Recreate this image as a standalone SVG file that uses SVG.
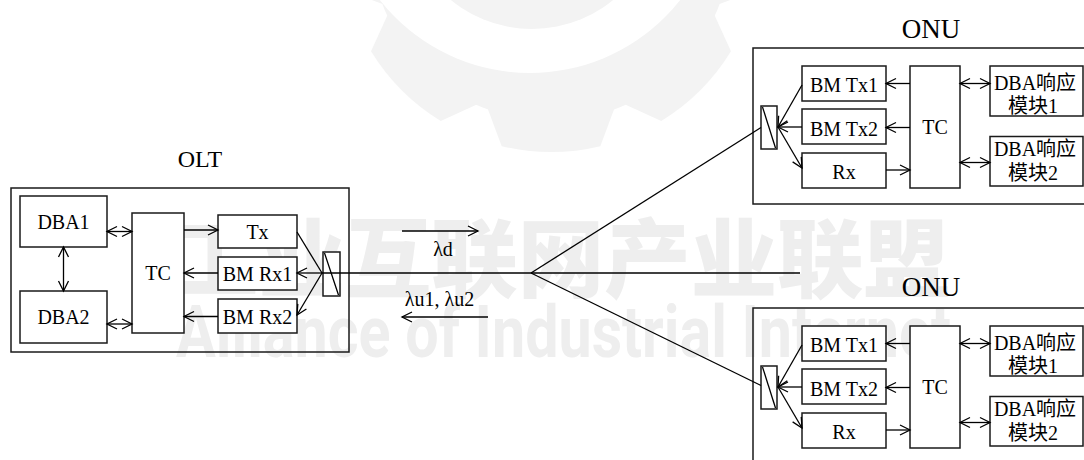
<svg xmlns="http://www.w3.org/2000/svg" width="1084" height="460" viewBox="0 0 1084 460">
<defs>
<marker id="ah" viewBox="-12 -7 14 14" refX="0" refY="0" markerWidth="14" markerHeight="14" markerUnits="userSpaceOnUse" orient="auto-start-reverse"><path d="M-10,-5 L0,0 L-10,5" fill="none" stroke="#000" stroke-width="1.3"/></marker>
<path id="tooth" d="M-68,155 L-63,168.6 L-49.3,205.2 A211,211 0 0 0 49.3,205.2 L63,168.6 L68,155 Z"/>
</defs>
<style>
.box{fill:#fff;stroke:#1a1a1a;stroke-width:1.5}
.frame{fill:none;stroke:#1a1a1a;stroke-width:1.5}
.ln{fill:none;stroke:#000;stroke-width:1.3}
.arr{marker-end:url(#ah)}
.dbl{marker-start:url(#ah);marker-end:url(#ah)}
.t{font-family:"Liberation Serif","Noto Sans CJK SC",serif;font-size:20px;fill:#000;text-anchor:middle}
.wm{fill:#f3f3f3}
.wmt{fill:#eeeeee}
</style>

<g id="watermark">
  <g class="wm" transform="translate(551,-59)">
    <circle r="180"/>
    <use href="#tooth" transform="rotate(0)"/>
    <use href="#tooth" transform="rotate(45)"/>
    <use href="#tooth" transform="rotate(90)"/>
    <use href="#tooth" transform="rotate(135)"/>
    <use href="#tooth" transform="rotate(180)"/>
    <use href="#tooth" transform="rotate(225)"/>
    <use href="#tooth" transform="rotate(270)"/>
    <use href="#tooth" transform="rotate(315)"/>
  </g>
  <circle cx="530" cy="-118" r="191" fill="#fff"/>
  <circle cx="532" cy="-99" r="128" class="wm"/>
  <text x="172" y="291" textLength="778" lengthAdjust="spacingAndGlyphs" style="font-family:'Noto Sans CJK SC',sans-serif;font-weight:900;font-size:86px" class="wmt">工业互联网产业联盟</text>
  <text x="176" y="357" textLength="775" lengthAdjust="spacingAndGlyphs" style="font-family:Roboto,'Liberation Sans',sans-serif;font-weight:700;font-size:72px" class="wmt">Alliance of Industrial Internet</text>
</g>

<g id="OLT">
  <text class="t" x="200" y="167" style="font-size:24px">OLT</text>
  <rect class="frame" x="11" y="188" width="338" height="164"/>
  <g id="olt-dba1"><rect class="box" x="20" y="196" width="87" height="51"/><text class="t" x="63.5" y="229">DBA1</text></g>
  <g id="olt-dba2"><rect class="box" x="20" y="291" width="87" height="52"/><text class="t" x="63.5" y="324">DBA2</text></g>
  <g id="olt-tc"><rect class="box" x="132" y="213" width="52" height="120"/><text class="t" x="158" y="280">TC</text></g>
  <g id="olt-tx"><rect class="box" x="218" y="215" width="79" height="33"/><text class="t" x="257.5" y="239">Tx</text></g>
  <g id="olt-bmrx1"><rect class="box" x="218" y="257" width="79" height="33"/><text class="t" x="257.5" y="281">BM Rx1</text></g>
  <g id="olt-bmrx2"><rect class="box" x="218" y="299" width="79" height="34"/><text class="t" x="257.5" y="324">BM Rx2</text></g>
  <g id="olt-splitter"><rect class="box" x="323" y="252" width="17" height="44"/><line class="ln" x1="324.5" y1="253" x2="338.5" y2="295"/></g>
</g>

<g id="ONU1">
  <text class="t" x="931" y="38" style="font-size:27px">ONU</text>
  <rect class="frame" x="753" y="48" width="345" height="156"/>
  <g id="onu1-bmtx1"><rect class="box" x="802" y="66" width="84" height="35"/><text class="t" x="844" y="92">BM Tx1</text></g>
  <g id="onu1-bmtx2"><rect class="box" x="802" y="109" width="84" height="35"/><text class="t" x="844" y="135.5">BM Tx2</text></g>
  <g id="onu1-rx"><rect class="box" x="802" y="153" width="84" height="35"/><text class="t" x="844" y="178.5">Rx</text></g>
  <g id="onu1-tc"><rect class="box" x="910" y="66" width="50" height="122"/><text class="t" x="935" y="134">TC</text></g>
  <g id="onu1-dba1"><rect class="box" x="990" y="66" width="93" height="50"/><text class="t" x="1035" y="90">DBA响应</text><text class="t" x="1033" y="112.5">模块1</text></g>
  <g id="onu1-dba2"><rect class="box" x="990" y="136.5" width="93" height="49.5"/><text class="t" x="1035" y="156">DBA响应</text><text class="t" x="1033" y="180">模块2</text></g>
  <g id="onu1-splitter"><rect class="box" x="761" y="106" width="16" height="43"/><line class="ln" x1="762.5" y1="107" x2="775.5" y2="148"/></g>
</g>

<g id="ONU2">
  <text class="t" x="931" y="296" style="font-size:27px">ONU</text>
  <rect class="frame" x="753" y="308" width="345" height="170"/>
  <g id="onu2-bmtx1"><rect class="box" x="802" y="326" width="84" height="35"/><text class="t" x="844" y="352">BM Tx1</text></g>
  <g id="onu2-bmtx2"><rect class="box" x="802" y="369" width="84" height="35"/><text class="t" x="844" y="395.5">BM Tx2</text></g>
  <g id="onu2-rx"><rect class="box" x="802" y="413" width="84" height="35"/><text class="t" x="844" y="438.5">Rx</text></g>
  <g id="onu2-tc"><rect class="box" x="910" y="326" width="50" height="122"/><text class="t" x="935" y="394">TC</text></g>
  <g id="onu2-dba1"><rect class="box" x="990" y="326" width="93" height="50"/><text class="t" x="1035" y="350">DBA响应</text><text class="t" x="1033" y="372.5">模块1</text></g>
  <g id="onu2-dba2"><rect class="box" x="990" y="396.5" width="93" height="49.5"/><text class="t" x="1035" y="416">DBA响应</text><text class="t" x="1033" y="440">模块2</text></g>
  <g id="onu2-splitter"><rect class="box" x="761" y="366" width="16" height="43"/><line class="ln" x1="762.5" y1="367" x2="775.5" y2="408"/></g>
</g>

<g id="labels">
  <text class="t" x="443" y="256">λd</text>
  <text class="t" x="439.5" y="306">λu1, λu2</text>
</g>

<g id="connectors">
  <line class="ln dbl" x1="107" y1="231.5" x2="132" y2="231.5"/>
  <line class="ln dbl" x1="107" y1="324" x2="132" y2="324"/>
  <line class="ln dbl" x1="63.5" y1="247" x2="63.5" y2="291"/>
  <line class="ln arr" x1="184" y1="230" x2="218" y2="230"/>
  <line class="ln arr" x1="218" y1="273" x2="184" y2="273"/>
  <line class="ln arr" x1="218" y1="316.5" x2="184" y2="316.5"/>
  <line class="ln" x1="297" y1="232" x2="322" y2="273"/>
  <line class="ln arr" x1="322" y1="273" x2="297" y2="273"/>
  <line class="ln arr" x1="322" y1="273" x2="297" y2="315"/>
  <line class="ln" x1="322" y1="273" x2="800" y2="273"/>
  <line class="ln" x1="531" y1="273" x2="761" y2="127.5"/>
  <line class="ln" x1="531" y1="273" x2="761" y2="385.5"/>
  <line class="ln arr" x1="402" y1="231" x2="478" y2="231"/>
  <line class="ln arr" x1="488" y1="317" x2="402" y2="317"/>
  <g id="onu1-links">
    <line class="ln arr" x1="910" y1="83.5" x2="886" y2="83.5"/>
    <line class="ln arr" x1="910" y1="127.5" x2="886" y2="127.5"/>
    <line class="ln arr" x1="886" y1="170" x2="910" y2="170"/>
    <line class="ln dbl" x1="960" y1="83.5" x2="990" y2="83.5"/>
    <line class="ln dbl" x1="960" y1="162.5" x2="990" y2="162.5"/>
    <line class="ln arr" x1="802" y1="85" x2="778" y2="127"/>
    <line class="ln arr" x1="802" y1="127" x2="778" y2="127"/>
    <line class="ln arr" x1="778" y1="127" x2="802" y2="168"/>
  </g>
  <g id="onu2-links" transform="translate(0,260)">
    <line class="ln arr" x1="910" y1="83.5" x2="886" y2="83.5"/>
    <line class="ln arr" x1="910" y1="127.5" x2="886" y2="127.5"/>
    <line class="ln arr" x1="886" y1="170" x2="910" y2="170"/>
    <line class="ln dbl" x1="960" y1="83.5" x2="990" y2="83.5"/>
    <line class="ln dbl" x1="960" y1="162.5" x2="990" y2="162.5"/>
    <line class="ln arr" x1="802" y1="85" x2="778" y2="127"/>
    <line class="ln arr" x1="802" y1="127" x2="778" y2="127"/>
    <line class="ln arr" x1="778" y1="127" x2="802" y2="168"/>
  </g>
</g>
</svg>
